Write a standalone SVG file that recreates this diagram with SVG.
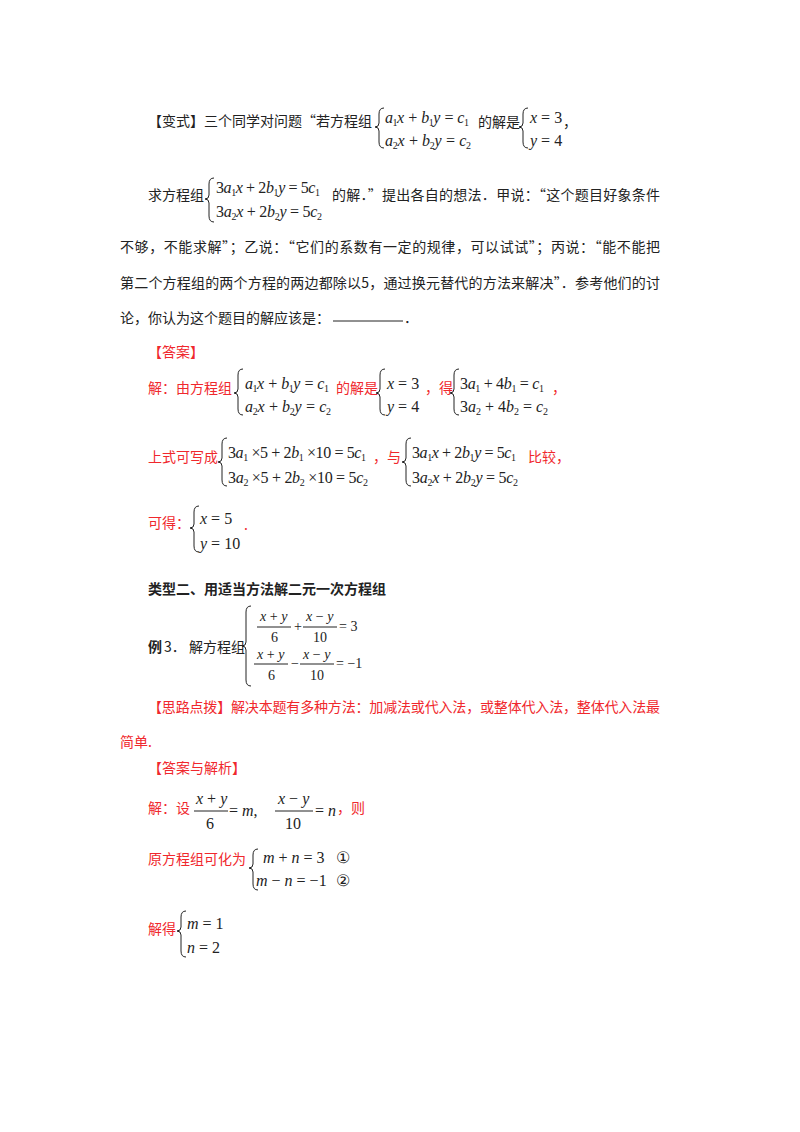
<svg xmlns="http://www.w3.org/2000/svg" width="800" height="1132" viewBox="0 0 800 1132">
<style>
.c{font-family:"Noto Sans CJK SC","Noto Sans CJK JP",sans-serif;font-size:14px;fill:#222}
.r{fill:#f0282d}
.b{font-weight:bold}
.m{font-family:"Liberation Serif",serif;font-size:16px;fill:#222}
.f{font-family:"Liberation Serif",serif;font-size:14px;fill:#222}
.i{font-style:italic}
.s{font-size:10px;font-style:normal}
.br{fill:none;stroke:#222;stroke-width:1}
.ln{stroke:#222;stroke-width:1}
</style>
<rect width="800" height="1132" fill="#fff"/>
<g id="variant">
<text class="c" x="148" y="126">【变式】三个同学对问题“若方程组</text>
<path class="br" d="M384,108 Q379,108 379,114 L379,123 Q379,127 375,127 Q379,127 379,131 L379,142 Q379,148 384,148"/>
<text class="m i" x="385" y="123" textLength="84">a<tspan class="s" dy="3">1</tspan><tspan dy="-3">x + b</tspan><tspan class="s" dy="3">1</tspan><tspan dy="-3">y = c</tspan><tspan class="s" dy="3">1</tspan></text>
<text class="m i" x="385" y="146" textLength="86">a<tspan class="s" dy="3">2</tspan><tspan dy="-3">x + b</tspan><tspan class="s" dy="3">2</tspan><tspan dy="-3">y = c</tspan><tspan class="s" dy="3">2</tspan></text>
<text class="c" x="478" y="127">的解是</text>
<path class="br" d="M528,108 Q523,108 523,114 L523,123 Q523,127 519,127 Q523,127 523,131 L523,142 Q523,148 528,148"/>
<text class="m i" x="530" y="123">x <tspan font-style="normal">= 3</tspan></text>
<text class="m i" x="530" y="146">y <tspan font-style="normal">= 4</tspan></text>
<text class="c" x="563" y="127">，</text>
<text class="c" x="148" y="200">求方程组</text>
<path class="br" d="M214,178 Q209,178 209,184 L209,195 Q209,199 205,199 Q209,199 209,203 L209,216 Q209,222 214,222"/>
<text class="m" x="216" y="193" textLength="104">3<tspan class="i">a</tspan><tspan class="s" dy="3">1</tspan><tspan class="i" dy="-3">x</tspan> + 2<tspan class="i">b</tspan><tspan class="s" dy="3">1</tspan><tspan class="i" dy="-3">y</tspan> = 5<tspan class="i">c</tspan><tspan class="s" dy="3">1</tspan></text>
<text class="m" x="216" y="217" textLength="106">3<tspan class="i">a</tspan><tspan class="s" dy="3">2</tspan><tspan class="i" dy="-3">x</tspan> + 2<tspan class="i">b</tspan><tspan class="s" dy="3">2</tspan><tspan class="i" dy="-3">y</tspan> = 5<tspan class="i">c</tspan><tspan class="s" dy="3">2</tspan></text>
<text class="c" x="332" y="200" textLength="328">的解．”提出各自的想法．甲说：“这个题目好象条件</text>
<text class="c" x="120" y="252" textLength="540">不够，不能求解”；乙说：“它们的系数有一定的规律，可以试试”；丙说：“能不能把</text>
<text class="c" x="120" y="288" textLength="540">第二个方程组的两个方程的两边都除以5，通过换元替代的方法来解决”．参考他们的讨</text>
<text class="c" x="120" y="323" textLength="210">论，你认为这个题目的解应该是：</text>
<line class="ln" x1="333" y1="321" x2="403" y2="321"/>
<text class="c" x="404" y="323">．</text>
</g>
<g id="answer">
<text class="c r" x="148" y="357">【答案】</text>
<text class="c r" x="148" y="393">解：由方程组</text>
<path class="br" d="M243,369 Q238,369 238,375 L238,389 Q238,393 234,393 Q238,393 238,397 L238,409 Q238,415 243,415"/>
<text class="m i" x="245" y="389" textLength="84">a<tspan class="s" dy="3">1</tspan><tspan dy="-3">x + b</tspan><tspan class="s" dy="3">1</tspan><tspan dy="-3">y = c</tspan><tspan class="s" dy="3">1</tspan></text>
<text class="m i" x="245" y="412" textLength="86">a<tspan class="s" dy="3">2</tspan><tspan dy="-3">x + b</tspan><tspan class="s" dy="3">2</tspan><tspan dy="-3">y = c</tspan><tspan class="s" dy="3">2</tspan></text>
<text class="c r" x="336" y="393">的解是</text>
<path class="br" d="M385,369 Q380,369 380,375 L380,389 Q380,393 376,393 Q380,393 380,397 L380,409 Q380,415 385,415"/>
<text class="m i" x="387" y="389">x <tspan font-style="normal">= 3</tspan></text>
<text class="m i" x="387" y="412">y <tspan font-style="normal">= 4</tspan></text>
<text class="c r" x="425" y="393">，得</text>
<path class="br" d="M459,369 Q454,369 454,375 L454,389 Q454,393 450,393 Q454,393 454,397 L454,409 Q454,415 459,415"/>
<text class="m" x="460" y="389" textLength="84">3<tspan class="i">a</tspan><tspan class="s" dy="3">1</tspan><tspan dy="-3"> + 4</tspan><tspan class="i">b</tspan><tspan class="s" dy="3">1</tspan><tspan dy="-3"> = </tspan><tspan class="i">c</tspan><tspan class="s" dy="3">1</tspan></text>
<text class="m" x="460" y="412" textLength="88">3<tspan class="i">a</tspan><tspan class="s" dy="3">2</tspan><tspan dy="-3"> + 4</tspan><tspan class="i">b</tspan><tspan class="s" dy="3">2</tspan><tspan dy="-3"> = </tspan><tspan class="i">c</tspan><tspan class="s" dy="3">2</tspan></text>
<text class="c r" x="552" y="393">，</text>
<text class="c r" x="148" y="462">上式可写成</text>
<path class="br" d="M227,438 Q222,438 222,444 L222,458 Q222,462 218,462 Q222,462 222,466 L222,480 Q222,486 227,486"/>
<text class="m" x="228" y="458" textLength="138">3<tspan class="i">a</tspan><tspan class="s" dy="3">1</tspan><tspan dy="-3"> ×5 + 2</tspan><tspan class="i">b</tspan><tspan class="s" dy="3">1</tspan><tspan dy="-3"> ×10 = 5</tspan><tspan class="i">c</tspan><tspan class="s" dy="3">1</tspan></text>
<text class="m" x="228" y="483" textLength="140">3<tspan class="i">a</tspan><tspan class="s" dy="3">2</tspan><tspan dy="-3"> ×5 + 2</tspan><tspan class="i">b</tspan><tspan class="s" dy="3">2</tspan><tspan dy="-3"> ×10 = 5</tspan><tspan class="i">c</tspan><tspan class="s" dy="3">2</tspan></text>
<text class="c r" x="373" y="462">，与</text>
<path class="br" d="M411,438 Q406,438 406,444 L406,458 Q406,462 402,462 Q406,462 406,466 L406,480 Q406,486 411,486"/>
<text class="m" x="412" y="458" textLength="104">3<tspan class="i">a</tspan><tspan class="s" dy="3">1</tspan><tspan class="i" dy="-3">x</tspan> + 2<tspan class="i">b</tspan><tspan class="s" dy="3">1</tspan><tspan class="i" dy="-3">y</tspan> = 5<tspan class="i">c</tspan><tspan class="s" dy="3">1</tspan></text>
<text class="m" x="412" y="483" textLength="106">3<tspan class="i">a</tspan><tspan class="s" dy="3">2</tspan><tspan class="i" dy="-3">x</tspan> + 2<tspan class="i">b</tspan><tspan class="s" dy="3">2</tspan><tspan class="i" dy="-3">y</tspan> = 5<tspan class="i">c</tspan><tspan class="s" dy="3">2</tspan></text>
<text class="c r" x="528" y="462">比较，</text>
<text class="c r" x="148" y="528">可得：</text>
<path class="br" d="M199,506 Q194,506 194,512 L194,524 Q194,528 190,528 Q194,528 194,532 L194,546 Q194,552 199,552"/>
<text class="m i" x="200" y="524">x <tspan font-style="normal">= 5</tspan></text>
<text class="m i" x="200" y="549">y <tspan font-style="normal">= 10</tspan></text>
<text class="c r" x="244" y="530">.</text>
</g>
<g id="type2">
<text class="c b" x="148" y="594" font-size="15">类型二、用适当方法解二元一次方程组</text>
<text class="c b" x="148" y="652">例</text>
<text class="c" x="164" y="652">3．  解方程组</text>
<path class="br" d="M251,606 Q246,606 246,612 L246,642 Q246,646 242,646 Q246,646 246,650 L246,680 Q246,686 251,686"/>
<text class="f i" x="260" y="621">x <tspan font-style="normal">+</tspan> y</text>
<line class="ln" x1="257" y1="627" x2="291" y2="627"/>
<text class="f" x="271" y="642">6</text>
<text class="f" x="294" y="631">+</text>
<text class="f i" x="306" y="621">x <tspan font-style="normal">−</tspan> y</text>
<line class="ln" x1="303" y1="627" x2="337" y2="627"/>
<text class="f" x="313" y="642">10</text>
<text class="f" x="339" y="631">= 3</text>
<text class="f i" x="257" y="659">x <tspan font-style="normal">+</tspan> y</text>
<line class="ln" x1="254" y1="664" x2="288" y2="664"/>
<text class="f" x="268" y="680">6</text>
<text class="f" x="291" y="668">−</text>
<text class="f i" x="303" y="659">x <tspan font-style="normal">−</tspan> y</text>
<line class="ln" x1="300" y1="664" x2="334" y2="664"/>
<text class="f" x="310" y="680">10</text>
<text class="f" x="336" y="668">= −1</text>
<text class="c r" x="148" y="712" textLength="512">【思路点拨】解决本题有多种方法：加减法或代入法，或整体代入法，整体代入法最</text>
<text class="c r" x="120" y="747">简单.</text>
<text class="c r" x="148" y="773">【答案与解析】</text>
<text class="c r" x="148" y="813">解：设</text>
<text class="m i" x="196" y="804" font-size="15">x <tspan font-style="normal">+</tspan> y</text>
<line class="ln" x1="194" y1="811" x2="228" y2="811"/>
<text class="m" x="206" y="829" font-size="15">6</text>
<text class="m" x="229" y="816" font-size="15">= <tspan class="i">m</tspan>,</text>
<text class="m i" x="278" y="804" font-size="15">x <tspan font-style="normal">−</tspan> y</text>
<line class="ln" x1="275" y1="811" x2="313" y2="811"/>
<text class="m" x="285" y="829" font-size="15">10</text>
<text class="m" x="315" y="816" font-size="15">= <tspan class="i">n</tspan></text>
<text class="c r" x="337" y="813">，则</text>
<text class="c r" x="148" y="864">原方程组可化为</text>
<path class="br" d="M258,849 Q253,849 253,855 L253,864 Q253,868 249,868 Q253,868 253,872 L253,884 Q253,890 258,890"/>
<text class="m" x="263" y="863"><tspan class="i">m</tspan> + <tspan class="i">n</tspan> = 3</text>
<text class="m" x="336" y="863">①</text>
<text class="m" x="256" y="886"><tspan class="i">m</tspan> − <tspan class="i">n</tspan> = −1</text>
<text class="m" x="336" y="886">②</text>
<text class="c r" x="148" y="934">解得</text>
<path class="br" d="M186,911 Q181,911 181,917 L181,927 Q181,931 177,931 Q181,931 181,935 L181,951 Q181,957 186,957"/>
<text class="m" x="187" y="929"><tspan class="i">m</tspan> = 1</text>
<text class="m" x="187" y="953"><tspan class="i">n</tspan> = 2</text>
</g>
</svg>
